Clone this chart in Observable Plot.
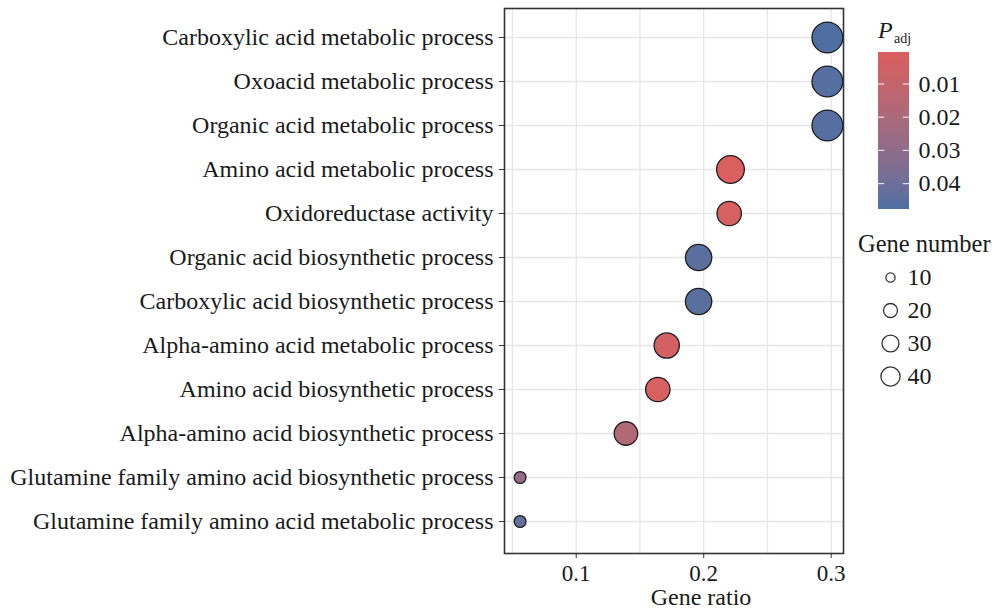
<!DOCTYPE html>
<html>
<head>
<meta charset="utf-8">
<script src="https://cdn.jsdelivr.net/npm/d3@7"></script>
<script src="https://cdn.jsdelivr.net/npm/@observablehq/plot@0.6"></script>
<style>
  html, body { margin: 0; padding: 0; background: #fff; }
  #chart { position: relative; width: 994px; height: 608px; font-family: "Liberation Serif", "Times New Roman", serif; color: #1a1a1a; }
  #chart > svg, #chart > figure { position: absolute; margin: 0; }
</style>
</head>
<body>
<div id="chart"></div>
<script>
// GO enrichment terms, top to bottom
const terms = [
  "Carboxylic acid metabolic process",
  "Oxoacid metabolic process",
  "Organic acid metabolic process",
  "Amino acid metabolic process",
  "Oxidoreductase activity",
  "Organic acid biosynthetic process",
  "Carboxylic acid biosynthetic process",
  "Alpha-amino acid metabolic process",
  "Amino acid biosynthetic process",
  "Alpha-amino acid biosynthetic process",
  "Glutamine family amino acid biosynthetic process",
  "Glutamine family amino acid metabolic process"
];
const geneRatio = [0.297, 0.297, 0.297, 0.221, 0.220, 0.196, 0.196, 0.171, 0.164, 0.139, 0.056, 0.056];
const geneCount = [42, 42, 42, 32, 23, 28, 28, 25, 23, 21, 8, 8];
const padj = [0.0475, 0.046, 0.046, 0.0008, 0.002, 0.045, 0.045, 0.004, 0.002, 0.017, 0.029, 0.043];

// axis and legend breaks
const xTicks = [0.1, 0.2, 0.3];
const xGrid = [0.05, 0.1, 0.15, 0.2, 0.25, 0.3];
const padjTicks = [0.01, 0.02, 0.03, 0.04];
const sizeBreaks = [10, 20, 30, 40];

const padjRange = [0.0008, 0.0475];
const countRange = [8, 42];
const lowColor = "#DA5F5E";
const highColor = "#4F6FA3";

const rows = terms.map((term, i) => ({term, ratio: geneRatio[i], count: geneCount[i], padj: padj[i]}));

const font = "'Liberation Serif', 'Times New Roman', serif";
const colorScale = {type: "linear", domain: padjRange, range: [lowColor, highColor], interpolate: "lab"};

const chart = document.getElementById("chart");

// main dot plot
const main = Plot.plot({
  width: 994,
  height: 608,
  marginTop: 8,
  marginBottom: 55,
  marginLeft: 504,
  marginRight: 151,
  style: {fontFamily: font, fontSize: "24px", color: "#1a1a1a", background: "transparent"},
  x: {domain: [0.04376, 0.30965]},
  y: {type: "point", domain: terms, range: [35, 523], padding: 0},
  r: {type: "linear", domain: countRange, range: [0, 1], interpolate: t => 5.9 + 9.5 * Math.sqrt(t)},
  color: colorScale,
  marks: [
    Plot.ruleX(xGrid, {stroke: "#E6E6E6", strokeWidth: 1.3}),
    Plot.ruleY(terms, {stroke: "#E6E6E6", strokeWidth: 1.3}),
    Plot.axisX({ticks: xTicks, tickFormat: d => d.toFixed(1), tickSize: 5, tickPadding: 6, label: null, fontSize: 23, stroke: "#333"}),
    Plot.axisY({tickSize: 5, tickPadding: 6, label: null, fontSize: 24, stroke: "#333"}),
    Plot.dot(rows, {x: "ratio", y: "term", r: "count", fill: "padj", stroke: "#1e1e1e", strokeWidth: 1.3, fillOpacity: 1}),
    Plot.frame({stroke: "#333", strokeWidth: 1.6}),
    Plot.text(["Gene ratio"], {frameAnchor: "bottom", dx: 27, dy: 51, lineAnchor: "bottom", fontSize: 24, fill: "#1a1a1a"})
  ]
});
main.style.left = "0px";
main.style.top = "0px";
chart.appendChild(main);

// legend titles
const ns = "http://www.w3.org/2000/svg";
const titles = document.createElementNS(ns, "svg");
titles.setAttribute("width", 994);
titles.setAttribute("height", 608);
titles.style.left = "0px";
titles.style.top = "0px";
titles.innerHTML = `
  <g font-family="${font.replace(/'/g, "&quot;")}" fill="#1a1a1a">
    <text x="878" y="38" font-size="24" font-style="italic">P</text>
    <text x="894" y="43" font-size="14">adj</text>
    <text x="858" y="252" font-size="24.5">Gene number</text>
  </g>`;
chart.appendChild(titles);

// colour bar for adjusted p-values
const nBins = 120;
const edges = d3.range(nBins + 1).map(i => padjRange[0] + (padjRange[1] - padjRange[0]) * i / nBins);
const bins = edges.slice(0, -1).map((v, i) => ({y1: v, y2: edges[i + 1], mid: (v + edges[i + 1]) / 2}));
const bar = Plot.plot({
  width: 110,
  height: 170,
  marginTop: 8,
  marginBottom: 7,
  marginLeft: 8,
  marginRight: 71,
  style: {fontFamily: font, fontSize: "24px", color: "#1a1a1a", background: "transparent"},
  x: {domain: [0, 1], axis: null},
  y: {domain: padjRange, reverse: true, axis: null},
  color: colorScale,
  marks: [
    Plot.rect(bins, {y1: "y1", y2: "y2", fill: "mid", insetTop: -0.6, insetBottom: -0.6, shapeRendering: "crispEdges"}),
    Plot.ruleY(padjTicks, {x1: 0, x2: 0.2, stroke: "white", strokeOpacity: 0.8, strokeWidth: 1.2}),
    Plot.ruleY(padjTicks, {x1: 0.8, x2: 1, stroke: "white", strokeOpacity: 0.8, strokeWidth: 1.2}),
    Plot.axisY(padjTicks, {anchor: "right", tickSize: 0, tickPadding: 9, tickFormat: d => d.toFixed(2), label: null, fontSize: 24})
  ]
});
bar.style.left = "870px";
bar.style.top = "45px";
chart.appendChild(bar);

// size legend for gene number
const sizeLegend = Plot.plot({
  width: 130,
  height: 140,
  marginTop: 0,
  marginBottom: 0,
  marginLeft: 32,
  marginRight: 0,
  style: {fontFamily: font, fontSize: "24px", color: "#1a1a1a", background: "transparent"},
  y: {type: "point", domain: sizeBreaks, range: [18, 118], padding: 0, axis: null},
  r: {type: "linear", domain: countRange, range: [0, 1], interpolate: t => 2.9 + 6.9 * Math.sqrt(t)},
  marks: [
    Plot.dot(sizeBreaks, {y: d => d, r: d => d, frameAnchor: "left", stroke: "#333", strokeWidth: 1.3, fill: "white"}),
    Plot.text(sizeBreaks, {y: d => d, text: d => String(d), frameAnchor: "left", dx: 17, textAnchor: "start", fontSize: 24, fill: "#1a1a1a"})
  ]
});
sizeLegend.style.left = "858px";
sizeLegend.style.top = "258px";
chart.appendChild(sizeLegend);
</script>
</body>
</html>
